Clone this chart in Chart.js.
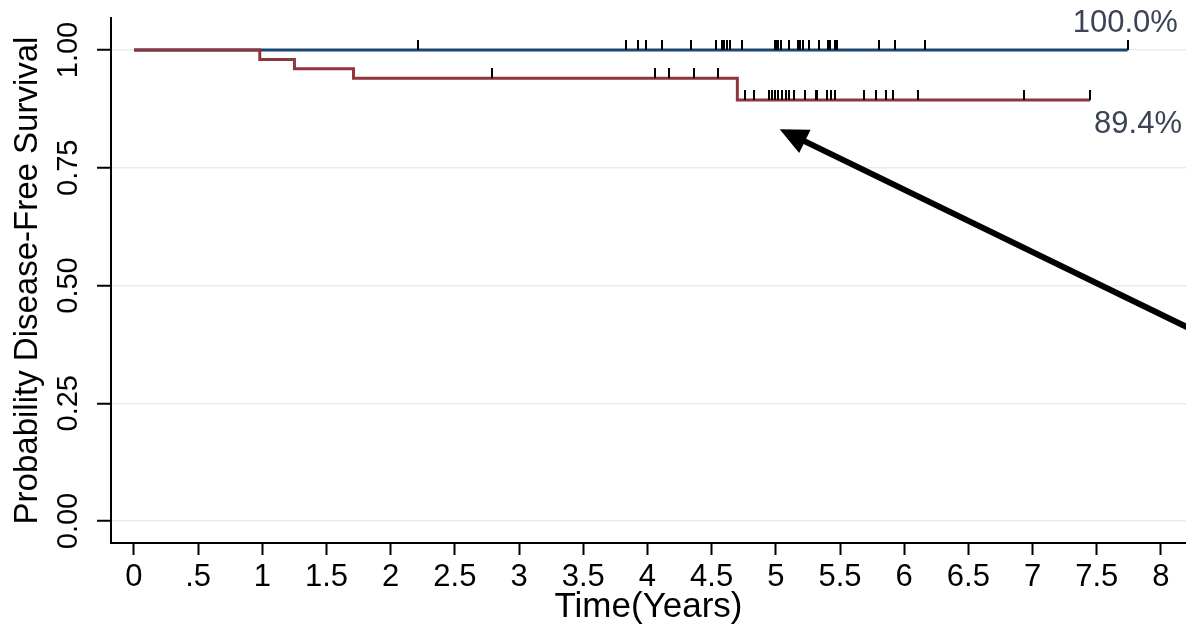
<!DOCTYPE html>
<html>
<head>
<meta charset="utf-8">
<script src="https://cdn.jsdelivr.net/npm/chart.js@4.4.1/dist/chart.umd.min.js"></script>
<style>
    html, body { margin: 0; padding: 0; background: #fff; }
    #wrap { width: 1186px; height: 628px; }
</style>
</head>
<body>
<div id="wrap"><canvas id="kmChart" width="1186" height="628"></canvas></div>
<script>
// tick values and labels
const xTicks = [0, 0.5, 1, 1.5, 2, 2.5, 3, 3.5, 4, 4.5, 5, 5.5, 6, 6.5, 7, 7.5, 8];
const xTickLabels = ["0", ".5", "1", "1.5", "2", "2.5", "3", "3.5", "4", "4.5", "5", "5.5", "6", "6.5", "7", "7.5", "8"];
const yTicks = [0, 0.25, 0.5, 0.75, 1];
const yTickLabels = ["0.00", "0.25", "0.50", "0.75", "1.00"];

// Kaplan-Meier curves (time in years, survival probability)
const blueTimes = [0, 7.74];
const blueSurv = [1, 1];
const redTimes = [0, 0.98, 1.25, 1.71, 4.70, 7.45];
const redSurv = [1, 0.98, 0.96, 0.94, 0.894, 0.894];

// censored observations (years)
const blueCensor = [2.21, 3.83, 3.93, 3.99, 4.11, 4.34, 4.53, 4.58, 4.60, 4.62, 4.64, 4.74,
    4.99, 5.00, 5.01, 5.02, 5.04, 5.10, 5.17, 5.19, 5.21, 5.26, 5.34, 5.41, 5.42, 5.46, 5.48,
    5.80, 5.93, 6.16, 7.74];
const redCensor = [2.79, 4.06, 4.17, 4.36, 4.55,
    4.76, 4.83, 4.95, 4.97, 4.99, 5.02, 5.05, 5.08, 5.10, 5.14, 5.23, 5.31, 5.32, 5.40, 5.43, 5.46,
    5.69, 5.78, 5.86, 5.91, 6.11, 6.93, 7.45];

const endLabels = ["100.0%", "89.4%"];

const FONT = '"Liberation Sans", Arial, sans-serif';
const BLUE = '#1a476f';
const RED = '#90353b';

// survival value of a step curve at time t
function survAt(times, surv, t) {
    let s = surv[0];
    for (let i = 0; i < times.length; i++) {
        if (times[i] <= t) s = surv[i];
    }
    return s;
}

function toPoints(times, surv) {
    return times.map((t, i) => ({ x: t, y: surv[i] }));
}

// little vertical tick used as point style for censor marks (sits on top of the line)
let tickImg = document.createElement("canvas");
tickImg.width = 2;
tickImg.height = 20;
let tctx = tickImg.getContext("2d");
tctx.fillStyle = "#000";
tctx.fillRect(0, 0, 2, 10);

// text labels + arrow
const annotations = {
    id: "annotations",
    afterDatasetsDraw(chart) {
        let ctx = chart.ctx;
        let x = chart.scales.x;
        let y = chart.scales.y;
        ctx.save();

        ctx.fillStyle = "#3c4356";
        ctx.font = "31px " + FONT;
        ctx.textAlign = "right";
        ctx.textBaseline = "middle";
        ctx.fillText(endLabels[0], x.getPixelForValue(8.132), y.getPixelForValue(1.057));
        ctx.fillText(endLabels[1], x.getPixelForValue(8.164), y.getPixelForValue(0.841));

        // arrow pointing at the lower curve
        let tipX = x.getPixelForValue(5.03), tipY = y.getPixelForValue(0.832);
        let tailX = x.getPixelForValue(8.6), tailY = y.getPixelForValue(0.359);
        let ang = Math.atan2(tailY - tipY, tailX - tipX);
        let headLen = 28, headHalf = 13;
        let baseX = tipX + Math.cos(ang) * headLen;
        let baseY = tipY + Math.sin(ang) * headLen;

        ctx.strokeStyle = "#000";
        ctx.lineWidth = 6;
        ctx.beginPath();
        ctx.moveTo(tailX, tailY);
        ctx.lineTo(baseX - Math.cos(ang) * 4, baseY - Math.sin(ang) * 4);
        ctx.stroke();

        ctx.fillStyle = "#000";
        ctx.beginPath();
        ctx.moveTo(tipX, tipY);
        ctx.lineTo(baseX - Math.sin(ang) * headHalf, baseY + Math.cos(ang) * headHalf);
        ctx.lineTo(baseX + Math.sin(ang) * headHalf, baseY - Math.cos(ang) * headHalf);
        ctx.closePath();
        ctx.fill();

        ctx.restore();
    }
};

const chart = new Chart(document.getElementById("kmChart"), {
    type: 'line',
    data: {
        datasets: [
            {
                type: 'scatter',
                data: redCensor.map(t => ({ x: t, y: survAt(redTimes, redSurv, t) })),
                pointStyle: tickImg,
                pointRadius: 5,
                showLine: false
            },
            {
                type: 'scatter',
                data: blueCensor.map(t => ({ x: t, y: survAt(blueTimes, blueSurv, t) })),
                pointStyle: tickImg,
                pointRadius: 5,
                showLine: false
            },
            {
                data: toPoints(redTimes, redSurv),
                stepped: 'before',
                borderColor: RED,
                borderWidth: 3,
                pointRadius: 0,
                fill: false
            },
            {
                data: toPoints(blueTimes, blueSurv),
                stepped: 'before',
                borderColor: BLUE,
                borderWidth: 3,
                pointRadius: 0,
                fill: false
            }
        ]
    },
    options: {
        responsive: false,
        animation: false,
        layout: {
            autoPadding: false,
            padding: { top: 18, right: 0, left: 0, bottom: 0 }
        },
        plugins: {
            legend: { display: false },
            tooltip: { enabled: false }
        },
        scales: {
            x: {
                type: 'linear',
                min: -0.179,
                max: 8.195,
                afterBuildTicks: s => { s.ticks = xTicks.map(v => ({ value: v })); },
                afterFit: s => {
                    s.height = 85;
                    s.paddingLeft = 0;
                    s.paddingRight = 0;
                },
                ticks: {
                    callback: v => xTickLabels[xTicks.indexOf(v)],
                    autoSkip: false,
                    maxRotation: 0,
                    minRotation: 0,
                    padding: 4,
                    color: '#000',
                    font: { family: FONT, size: 31 }
                },
                grid: {
                    drawOnChartArea: false,
                    tickLength: 12,
                    tickWidth: 2,
                    tickColor: '#000'
                },
                border: { color: '#000', width: 2 },
                title: {
                    display: true,
                    text: 'Time(Years)',
                    color: '#000',
                    font: { family: FONT, size: 35 },
                    padding: { top: 0, bottom: 0 }
                }
            },
            y: {
                type: 'linear',
                min: -0.0467,
                max: 1.068,
                afterBuildTicks: s => { s.ticks = yTicks.map(v => ({ value: v })); },
                afterFit: s => { s.width = 111; },
                ticks: {
                    callback: v => yTickLabels[yTicks.indexOf(v)],
                    minRotation: 90,
                    maxRotation: 90,
                    crossAlign: 'center',
                    padding: 0,
                    color: '#000',
                    font: { family: FONT, size: 29 }
                },
                grid: {
                    color: '#e4edef',
                    lineWidth: 1.5,
                    tickLength: 14,
                    tickWidth: 2,
                    tickColor: '#000'
                },
                border: { color: '#000', width: 2 },
                title: {
                    display: true,
                    text: 'Probability Disease-Free Survival',
                    color: '#000',
                    font: { family: FONT, size: 33 },
                    padding: { top: 8, bottom: 0 }
                }
            }
        }
    },
    plugins: [annotations]
});
</script>
</body>
</html>
